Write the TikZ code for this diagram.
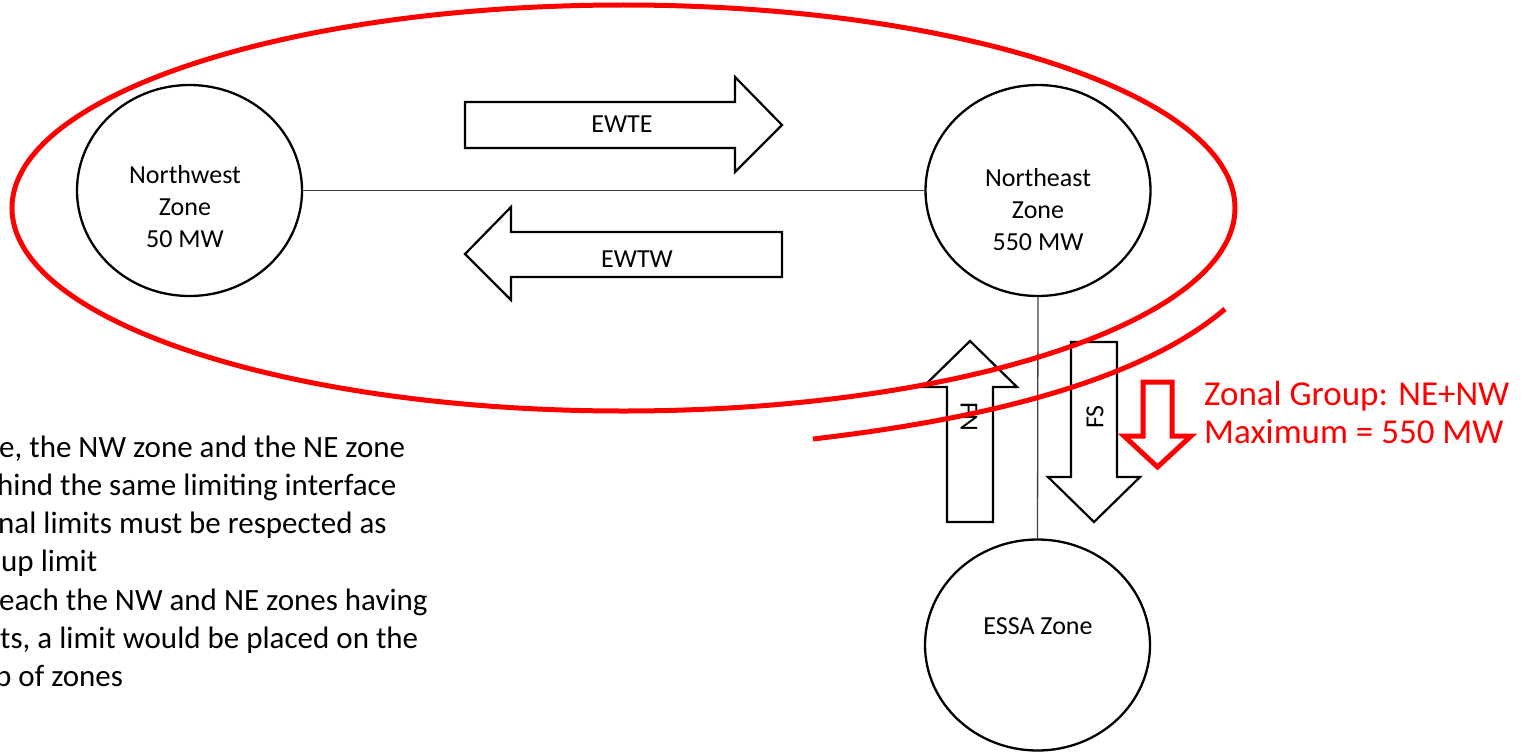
\documentclass[tikz,border=0pt]{standalone}
\usepackage{fontspec}
\setmainfont{Carlito}
\usetikzlibrary{shapes.geometric}
\begin{document}
\begin{tikzpicture}[x=1pt,y=-1pt,
  zone/.style={ellipse, draw, line width=2.3pt, fill=white, minimum width=225pt, minimum height=211pt, inner sep=0pt},
  link/.style={draw=black!75, line width=1.3pt},
  blockarrow/.style={draw, fill=white, line width=2.2pt, line join=miter},
  redline/.style={draw=red, line width=5pt},
  lbl/.style={font=\fontsize{26}{32}\selectfont, inner sep=0pt, anchor=base},
  note/.style={font=\fontsize{31}{38}\selectfont, inner sep=0pt, anchor=base west},
  redtxt/.style={font=\fontsize{35}{40}\selectfont, text=red, inner sep=0pt, anchor=base west}]
\useasboundingbox[fill=white] (0,0) rectangle (1530,752);

% zones
\node[zone] (nw) at (189.5,190.5) {};
\node[zone] (ne) at (1038,190.5) {};
\node[zone] (essa) at (1037.5,645) {};

% interconnections
\draw[link] (nw.east) -- (ne.west);
\draw[link] (ne.south) -- (essa.north);

% zone captions
\node[lbl] (nw1) at (185,183) {Northwest};
\node[lbl] (nw2) at (185,215) {Zone};
\node[lbl] (nw3) at (185,247) {50 MW};
\node[lbl] (ne1) at (1038,186) {Northeast};
\node[lbl] (ne2) at (1038,218) {Zone};
\node[lbl] (ne3) at (1038,250) {550 MW};
\node[lbl] (es1) at (1038,634) {ESSA Zone};

% transfer arrows
\draw[blockarrow] (465,102) -- (735,102) -- (735,77) -- (782,125) -- (735,172) -- (735,148) -- (465,148) -- cycle;
\draw[blockarrow] (782,232) -- (511,232) -- (511,207) -- (465,254) -- (511,300) -- (511,277) -- (782,277) -- cycle;
\draw[blockarrow] (947,522) -- (947,387) -- (923,387) -- (970,341) -- (1017,387) -- (993,387) -- (993,522) -- cycle;
\draw[blockarrow] (1071,342) -- (1117,342) -- (1117,477) -- (1140,477) -- (1094,522) -- (1048,477) -- (1071,477) -- cycle;

\node[lbl] (ewte) at (622,132) {EWTE};
\node[lbl] (ewtw) at (637,267) {EWTW};
\node[font=\fontsize{26}{32}\selectfont, inner sep=0pt, rotate=-90] (fn) at (969,417) {FN};
\node[font=\fontsize{26}{32}\selectfont, inner sep=0pt, rotate=90] (fs) at (1095,417) {FS};

% zonal group boundary
\draw[redline] (623.5,208) ellipse [x radius=611.5, y radius=203];
\draw[redline] (813,439) .. controls (950,423) and (1130,390) .. (1225,309);
\draw[redline, fill=white, line join=miter] (1143,382) -- (1172,382) -- (1172,436) -- (1191,436) -- (1157.5,467) -- (1124,436) -- (1143,436) -- cycle;

\node[redtxt] (zg1) at (1204,405) {Zonal Group: NE+NW};
\node[redtxt] (zg2) at (1204,443) {Maximum = 550 MW};

% notes
\node[note] (t1) at (-1,457) {e, the NW zone and the NE zone};
\node[note] (t2) at (-3,495) {hind the same limiting interface};
\node[note] (t3) at (-2,533) {nal limits must be respected as};
\node[note] (t4) at (1,571.5) {up limit};
\node[note] (t5) at (-1,610) {each the NW and NE zones having};
\node[note] (t6) at (0,648) {ts, a limit would be placed on the};
\node[note] (t7) at (-5,686) {p of zones};
\end{tikzpicture}
\end{document}
